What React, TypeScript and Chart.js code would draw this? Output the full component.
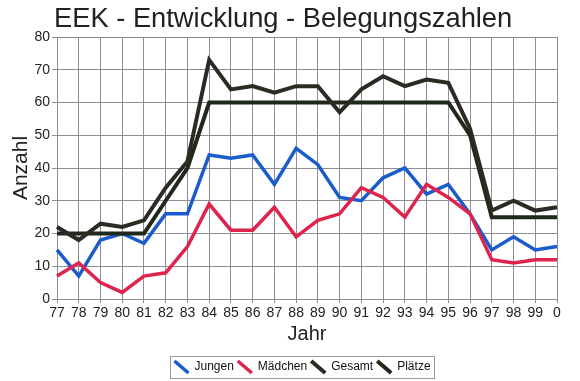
import { useEffect, useRef } from 'react';
import { Chart, registerables } from 'chart.js';

Chart.register(...registerables);

const TITLE = 'EEK - Entwicklung - Belegungszahlen';
const years = ['77', '78', '79', '80', '81', '82', '83', '84', '85', '86', '87', '88', '89', '90', '91', '92', '93', '94', '95', '96', '97', '98', '99', '0'];
const jungen = [15, 7, 18, 20, 17, 26, 26, 44, 43, 44, 35, 46, 41, 31, 30, 37, 40, 32, 35, 26, 15, 19, 15, 16];
const maedchen = [7, 11, 5, 2, 7, 8, 16, 29, 21, 21, 28, 19, 24, 26, 34, 31, 25, 35, 31, 26, 12, 11, 12, 12];
const gesamt = [22, 18, 23, 22, 24, 34, 42, 73, 64, 65, 63, 65, 65, 57, 64, 68, 65, 67, 66, 52, 27, 30, 27, 28];
const plaetze = [20, 20, 20, 20, 20, 30, 40, 60, 60, 60, 60, 60, 60, 60, 60, 60, 60, 60, 60, 50, 25, 25, 25, 25];

const FONT = '"Liberation Sans", Arial, sans-serif';
const GRID = '#8e8c96';

export default function App() {
  const ref = useRef<HTMLCanvasElement>(null);
  useEffect(() => {
    if (!ref.current) return;
    const titlePlugin = {
      id: 'customTitle',
      afterDraw(chart: any) {
        const ctx = chart.ctx;
        ctx.save();
        ctx.font = `27.3px ${FONT}`;
        ctx.fillStyle = '#222';
        ctx.textBaseline = 'alphabetic';
        ctx.textAlign = 'left';
        ctx.fillText(TITLE, 54, 27);
        ctx.restore();
      },
    };
    const legendShift = {
      id: 'legendShift',
      afterLayout(chart: any) {
        const l = chart.legend;
        if (!l) return;
        l.left += 24;
        l.right += 24;
        l.top += 2;
        l.bottom += 2;
      },
    };
    const legendBox = {
      id: 'legendBox',
      afterDraw(chart: any) {
        const l = chart.legend;
        if (!l || !l.legendHitBoxes || !l.legendHitBoxes.length) return;
        const hb = l.legendHitBoxes;
        let left = Infinity, right = -Infinity, top = Infinity, bottom = -Infinity;
        hb.forEach((b: any) => {
          left = Math.min(left, b.left);
          right = Math.max(right, b.left + b.width);
          top = Math.min(top, b.top);
          bottom = Math.max(bottom, b.top + b.height);
        });
        const ctx = chart.ctx;
        ctx.save();
        ctx.strokeStyle = '#9a9a9a';
        ctx.lineWidth = 1;
        ctx.strokeRect(Math.round(left - 4) + 0.5, Math.round(top - 5) + 0.5, Math.round(right - left + 8), Math.round(bottom - top + 10));
        ctx.restore();
      },
    };
    const mk = (label: string, data: number[], color: string, width: number, order: number) => ({
      label,
      data,
      borderColor: color,
      backgroundColor: color,
      borderWidth: width,
      pointRadius: 0,
      pointHoverRadius: 0,
      pointStyle: 'line',
      pointRotation: 45,
      tension: 0,
      fill: false,
      order,
    });
    const chart = new Chart(ref.current, {
      type: 'line',
      data: {
        labels: years,
        datasets: [
          mk('Jungen', jungen, '#1a5ccc', 3.5, 4),
          mk('Mädchen', maedchen, '#e0234c', 3.5, 3),
          mk('Gesamt', gesamt, '#2c2a22', 4, 1),
          mk('Plätze', plaetze, '#1f291b', 4, 2),
        ],
      },
      plugins: [titlePlugin, legendShift, legendBox],
      options: {
        responsive: false,
        animation: false,
        layout: { padding: { top: 37, right: 23, bottom: 0, left: 0 } },
        plugins: {
          title: { display: false },
          tooltip: { enabled: false },
          legend: {
            display: true,
            position: 'bottom',
            labels: {
              usePointStyle: true,
              pointStyleWidth: 14,
              boxHeight: 12,
              padding: 4,
              color: '#111',
              font: { family: FONT, size: 12 },
              sort: (a: any, b: any) => a.datasetIndex - b.datasetIndex,
            },
          },
        },
        scales: {
          x: {
            offset: false,
            afterFit(scale: any) { scale.height = 56; },
            grid: { color: GRID, lineWidth: 1, tickLength: 4, drawTicks: true },
            border: { color: GRID },
            ticks: { color: '#222', font: { family: FONT, size: 14 }, padding: 2, maxRotation: 0, autoSkip: false },
            title: { display: true, text: 'Jahr', color: '#222', font: { family: FONT, size: 20 }, padding: { top: 0, bottom: 9 } },
          },
          y: {
            min: 0,
            max: 80,
            afterFit(scale: any) { scale.width = 57; },
            grid: { color: GRID, lineWidth: 1, tickLength: 5 },
            border: { color: GRID },
            ticks: { stepSize: 10, color: '#222', font: { family: FONT, size: 14 }, padding: 2 },
            title: { display: true, text: 'Anzahl', color: '#222', font: { family: FONT, size: 21 }, padding: { top: 9, bottom: 0 } },
          },
        },
      },
    } as any);
    return () => chart.destroy();
  }, []);
  return (
    <div style={{ position: 'absolute', left: 0, top: 0, width: 580, height: 381, background: '#fff' }}>
      <canvas ref={ref} width={580} height={381} />
    </div>
  );
}
